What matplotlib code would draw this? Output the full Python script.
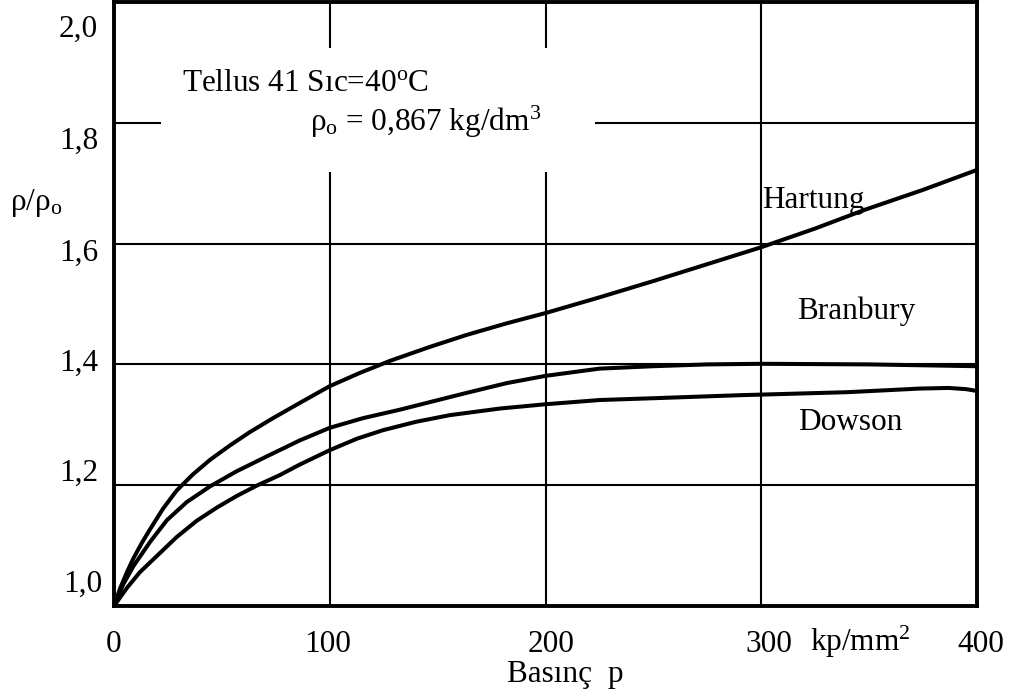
import matplotlib
matplotlib.use("Agg")
import matplotlib.pyplot as plt
from matplotlib.patches import Rectangle
import matplotlib.transforms as mtransforms

plt.rcParams['font.family'] = ['Liberation Serif', 'DejaVu Serif']
plt.rcParams['mathtext.fontset'] = 'custom'
plt.rcParams['mathtext.rm'] = 'Liberation Serif'
plt.rcParams['mathtext.it'] = 'Liberation Serif:italic'

# ---- data ----
hartung_p = [0, 2.8, 6, 9, 13, 16.7, 22.7, 29, 36.6, 44.5, 53.8, 63, 73.7, 86, 100,
             114, 128, 146.4, 163.6, 182, 200, 225, 250, 275, 300, 325, 348, 375, 400]
hartung_r = [1.0, 1.029, 1.056, 1.079, 1.105, 1.127, 1.161, 1.191, 1.218, 1.242, 1.266, 1.288, 1.311, 1.336, 1.364,
             1.386, 1.406, 1.429, 1.449, 1.468, 1.485, 1.511, 1.538, 1.566, 1.594, 1.625, 1.656, 1.689, 1.722]

branbury_p = [0, 4.3, 9, 16.7, 24.5, 33.7, 44.5, 56.8, 71, 86, 100, 115.4, 132.5, 148, 163.6,
              182, 200, 225, 250, 275, 300, 350, 400]
branbury_r = [1.0, 1.036, 1.066, 1.106, 1.142, 1.172, 1.198, 1.223, 1.248, 1.274, 1.295, 1.311, 1.325, 1.339, 1.353,
              1.369, 1.381, 1.393, 1.397, 1.400, 1.401, 1.400, 1.397]

dowson_p = [0, 6, 12, 20.5, 29, 38.3, 47.7, 56.8, 66, 77, 86, 100, 112.6, 124.6, 140, 155.7,
            179, 200, 225, 250, 290, 340, 373.5, 387, 395, 400]
dowson_r = [1.0, 1.030, 1.056, 1.085, 1.114, 1.141, 1.163, 1.182, 1.199, 1.217, 1.234, 1.258, 1.277, 1.291, 1.305, 1.316,
            1.327, 1.334, 1.341, 1.344, 1.349, 1.354, 1.360, 1.361, 1.359, 1.356]

x_ticks = [0, 100, 200, 300, 400]
x_tick_labels = ['0', '100', '200', '300', '400']
y_grid = [1.2, 1.4, 1.6, 1.8]
y_tick_labels = ['2,0', '1,8', '1,6', '1,4', '1,2', '1,0']

curve_names = ['Hartung', 'Branbury', 'Dowson']

# ---- figure ----
W, H = 1016, 698
fig = plt.figure(figsize=(W / 100, H / 100), dpi=100)
L, R, T, B = 114, 977, 2, 606
ax = fig.add_axes([L / W, (H - B) / H, (R - L) / W, (B - T) / H])
ax.set_xlim(0, 400)
ax.set_ylim(1.0, 2.0)

FS = 22.5

for s in ax.spines.values():
    s.set_linewidth(2.8)

ax.set_xticks(x_ticks)
ax.set_xticklabels(x_tick_labels, fontsize=FS)
ax.set_yticks(y_grid)
ax.set_yticklabels([])
ax.tick_params(axis='both', length=0)
ax.tick_params(axis='x', pad=17)
# small horizontal nudges of tick labels as in the reference (pixels)
nudges = [0, -2, 6, 8, 4]
for lab, dx in zip(ax.get_xticklabels(), nudges):
    lab.set_transform(lab.get_transform() + mtransforms.ScaledTranslation(dx / 100, 0, fig.dpi_scale_trans))

for xv in [100, 200, 300]:
    ax.axvline(xv, color='black', lw=1.5, zorder=0.5)
for yv in y_grid:
    ax.axhline(yv, color='black', lw=1.5, zorder=0.5)

# white box around the annotation text
ax.add_patch(Rectangle((21.8, 1.7185), 222.9 - 21.8, 1.924 - 1.7185,
                       facecolor='white', edgecolor='none', zorder=1))

for px, ry in [(hartung_p, hartung_r), (branbury_p, branbury_r), (dowson_p, dowson_r)]:
    ax.plot(px, ry, color='black', lw=2.9, zorder=2, solid_capstyle='round',
            solid_joinstyle='round', clip_on=False)

# y labels (placed as in the reference, evenly spaced)
ylab_pos = [0.955, 0.770, 0.584, 0.401, 0.219, 0.036]
ylab_x = [-0.0185, -0.0185, -0.0185, -0.0185, -0.0185, -0.0139]
for lab, yp, xp in zip(y_tick_labels, ylab_pos, ylab_x):
    ax.text(xp, yp, lab, transform=ax.transAxes, ha='right', va='center', fontsize=FS)

ax.text(-0.120, 0.668, r'ρ/ρ$_{\mathrm{o}}$', transform=ax.transAxes,
        ha='left', va='center', fontsize=FS)

# annotation
ax.text(31.5, 1.852, r'Tellus 41 Sıc=40$^{\mathrm{o}}$C', ha='left', va='baseline', fontsize=FS, zorder=3)
ax.text(90.8, 1.7865, r'ρ$_{\mathrm{o}}$ = 0,867 kg/dm$^{3}$', ha='left', va='baseline', fontsize=FS, zorder=3)

# curve labels
ax.text(300.3, 1.6585, curve_names[0], ha='left', va='baseline', fontsize=FS)
ax.text(316.5, 1.4747, curve_names[1], ha='left', va='baseline', fontsize=FS)
ax.text(317.0, 1.2909, curve_names[2], ha='left', va='baseline', fontsize=FS)

# unit and axis label
bt = mtransforms.blended_transform_factory(ax.transData, ax.transAxes)
ax.text(322.5, -0.0745, r'kp/mm$^{2}$', transform=bt, ha='left', va='baseline', fontsize=FS)
ax.text(209.0, -0.126, 'Basınç  p', transform=bt, ha='center', va='baseline', fontsize=FS)

fig.savefig('out.png', dpi=100)
